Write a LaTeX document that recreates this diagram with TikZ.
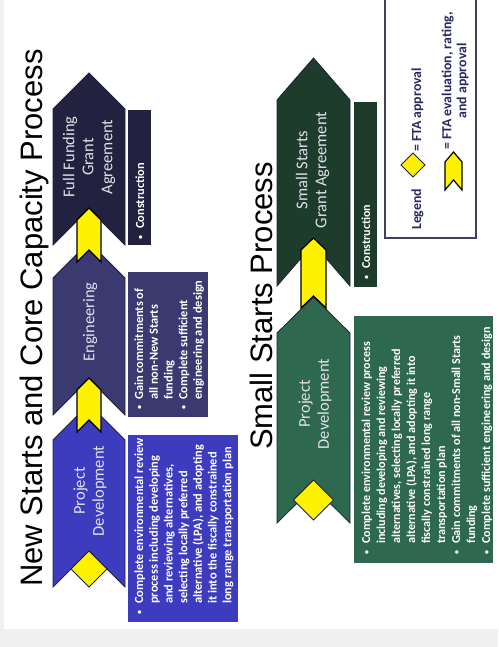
\documentclass[tikz,border=0pt]{standalone}
\usepackage{fontspec}
\setmainfont{Carlito}
\newfontfamily\titlefont{Liberation Sans}
\usepackage{tikz}
\usetikzlibrary{calc}

\definecolor{pdblue}{RGB}{62, 60, 190}
\definecolor{engslate}{RGB}{58, 58, 112}
\definecolor{ffganavy}{RGB}{34, 34, 64}
\definecolor{pdgreen}{RGB}{46, 104, 78}
\definecolor{ssgagreen}{RGB}{30, 60, 43}
\definecolor{outline}{RGB}{32, 32, 60}
\definecolor{legendnavy}{RGB}{40, 40, 100}
\definecolor{labelgray}{RGB}{225, 225, 235}
\definecolor{pagegray}{RGB}{240, 240, 240}

% chevron pointing along the row: style, back, centre, half width, body length, depth
\newcommand{\chevron}[6]{%
  \draw[#1] (#2,#3-#4) -- ++(#5,0) -- ++(#6,#4) -- ++(-#6,#4) -- ++(-#5,0) -- ++(#6,-#4) -- cycle;}
% FTA approval mark: centre u, centre v, half diagonal
\newcommand{\approvalmark}[3]{%
  \draw[approval] (#1-#3,#2) -- (#1,#2+#3) -- (#1+#3,#2) -- (#1,#2-#3) -- cycle;}
% small bullet of the task lists
\newcommand{\taskdot}{\raisebox{1.2pt}{\fontsize{8}{8}\selectfont\textbullet}}

\begin{document}
\begin{tikzpicture}[x=1pt, y=1pt,
    stage/.style={draw=outline, line width=0.8pt, line join=miter},
    evalchev/.style={fill=yellow, draw=black, line width=1.2pt, line join=miter},
    approval/.style={fill=yellow, draw=outline, line width=1pt},
    chevlabel/.style={font=\fontsize{16.5}{19}\selectfont, text=labelgray, align=center, inner sep=0pt},
    desctext/.style={font=\bfseries\fontsize{12.4}{14.7}\selectfont, text=white, inner sep=0pt, anchor=north west},
    legendtext/.style={font=\bfseries\fontsize{13.8}{15}\selectfont, text=legendnavy, inner sep=0pt}]

  \useasboundingbox (0,0) rectangle (498,647);
  \begin{scope}[shift={(498,0)}, rotate=90, transform shape]
    % page
    \fill[pagegray] (0,0) rectangle (647,498);
    \fill[white] (18,0) rectangle (647,494);

    % New Starts and Core Capacity
    \node[anchor=base west, inner sep=0pt, font=\titlefont\fontsize{31}{31}\selectfont] (nstitle) at (60,456) {New Starts and Core Capacity Process};

    \chevron{stage, fill=pdblue}{60}{409}{36}{147}{36}
    \chevron{stage, fill=engslate}{232}{409}{36}{137}{36}
    \chevron{stage, fill=ffganavy}{402}{409}{36}{136}{36}
    \chevron{evalchev}{215}{409}{12}{42}{12}
    \chevron{evalchev}{385}{409}{12}{42}{12}
    \approvalmark{78}{409}{18}

    \node[chevlabel] (nspd) at (156,408) {Project\\Development};
    \node[chevlabel] (nseng) at (325,408) {Engineering};
    \node[chevlabel] (nsffga) at (490,409) {Full Funding\\Grant\\Agreement};

    \fill[pdblue] (25,260) rectangle (212,370);
    \node[desctext] (nspdtext) at (32,365.3) {%
      \begin{tabular}{@{}l@{\hspace{7pt}}l@{}}
        \taskdot & Complete environmental review\\
        & process including developing\\
        & and reviewing alternatives,\\
        & selecting locally preferred\\
        & alternative (LPA), and adopting\\
        & it into the fiscally constrained\\
        & long range transportation plan
      \end{tabular}};

    \fill[engslate] (230,290) rectangle (375,370);
    \node[desctext] (nsengtext) at (237,365.3) {%
      \begin{tabular}{@{}l@{\hspace{6pt}}l@{}}
        \taskdot & Gain commitments of\\
        & all non-New Starts\\
        & funding\\
        \taskdot & Complete sufficient\\
        & engineering and design
      \end{tabular}};

    \fill[ffganavy] (402,347) rectangle (537,370);
    \node[desctext, anchor=base west] (nsffgatext) at (407,354) {\taskdot\hspace{7pt}Construction};

    % Small Starts
    \node[anchor=base west, inner sep=0pt, font=\titlefont\fontsize{31}{31}\selectfont] (sstitle) at (197,226) {Small Starts Process};

    \chevron{stage, fill=pdgreen}{124}{184.5}{36.5}{190}{36}
    \chevron{stage, fill=ssgagreen}{361}{184.5}{36.5}{186}{42}
    \chevron{evalchev}{339}{184.5}{12.5}{58}{12}
    \approvalmark{147}{184.5}{20}

    \node[chevlabel] (sspd) at (243,183) {Project\\Development};
    \node[chevlabel] (sssga) at (477,185.5) {Small Starts\\Grant Agreement};

    \fill[pdgreen] (84,5) rectangle (331,144);
    \node[desctext, font=\bfseries\fontsize{12.1}{15}\selectfont] (sspdtext) at (92,138.5) {%
      \begin{tabular}{@{}l@{\hspace{7pt}}l@{}}
        \taskdot & Complete environmental review process\\
        & including developing and reviewing\\
        & alternatives, selecting locally preferred\\
        & alternative (LPA), and adopting it into\\
        & fiscally constrained long range\\
        & transportation plan\\
        \taskdot & Gain commitments of all non-Small Starts\\
        & funding\\
        \taskdot & Complete sufficient engineering and design
      \end{tabular}};

    \fill[ssgagreen] (360,121) rectangle (545,144);
    \node[desctext, anchor=base west, font=\bfseries\fontsize{12.1}{15}\selectfont] (sssgatext) at (367,128) {\taskdot\hspace{7pt}Construction};

    % Legend
    \draw[draw=outline!85, line width=1.2pt, fill=white] (409,22) rectangle (652,113);
    \node[legendtext, anchor=base west] (legendword) at (417,77) {Legend};
    \approvalmark{482}{85}{12}
    \node[legendtext, anchor=base west] (legendapproval) at (495,77) {= FTA approval};
    \chevron{evalchev}{457}{44.5}{8.5}{28}{10}
    \node[legendtext, anchor=west, align=center] (legendeval) at (497,43) {= FTA evaluation, rating,\\and approval};
  \end{scope}
\end{tikzpicture}
\end{document}
